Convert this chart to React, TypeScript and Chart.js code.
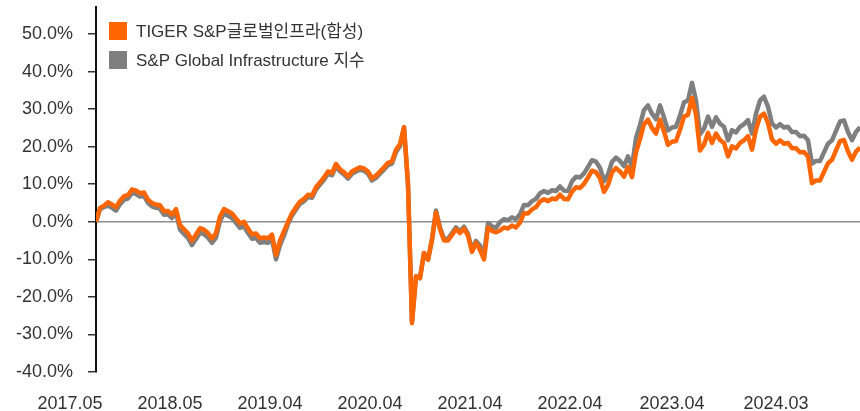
import { useEffect, useRef } from 'react';
import { Chart, registerables } from 'chart.js';

Chart.register(...registerables);

const seriesNames = ['TIGER S&P글로벌인프라(합성)', 'S&P Global Infrastructure 지수'];
const seriesColors = ['#FF6600', '#7F7F7F'];

const tickLabels = ['2017.05', '2018.05', '2019.04', '2020.04', '2021.04', '2022.04', '2023.04', '2024.03'];
const tickIndex = [0, 25, 50, 75, 100, 125, 150.5, 176.5];
const yTicks = [-40, -30, -20, -10, 0, 10, 20, 30, 40, 50];

const tigerValues = [
  0.0, 3.7, 4.3, 5.2, 4.6, 3.9, 5.6, 6.8, 7.1, 8.6,
  8.3, 7.6, 7.8, 5.9, 5.0, 4.6, 4.4, 2.8, 2.9, 1.9,
  3.4, -0.9, -2.0, -3.1, -5.0, -3.4, -1.7, -2.1, -3.0, -4.4,
  -3.0, 1.4, 3.4, 2.8, 2.2, 0.9, -0.4, 0.0, -1.8, -3.3,
  -3.1, -4.4, -4.2, -4.4, -3.4, -8.8, -5.0, -2.5, 0.0, 2.3,
  3.9, 5.4, 6.1, 7.2, 7.0, 9.2, 10.5, 11.8, 13.4, 13.0,
  15.4, 14.0, 13.2, 12.1, 13.4, 14.0, 14.5, 14.2, 13.4, 11.6,
  12.3, 13.4, 14.5, 15.7, 16.1, 19.2, 20.7, 25.2, 10.0, -27.0,
  -14.5, -15.0, -8.3, -10.1, -4.7, 2.5, -2.0, -5.0, -5.0, -3.5,
  -2.0, -3.0, -1.8, -3.7, -8.0, -5.6, -7.5, -10.0, -1.5, -2.4,
  -2.8, -2.3, -1.5, -1.8, -1.0, -1.5, -0.2, 2.3, 2.2, 3.3,
  3.9, 5.4, 6.0, 5.5, 6.2, 6.0, 7.2, 6.1, 6.0, 8.0,
  9.2, 9.0, 10.1, 11.8, 13.6, 13.2, 11.6, 8.0, 9.8, 13.2,
  14.3, 13.4, 12.0, 14.6, 11.9, 18.5, 22.0, 26.0, 27.2, 25.0,
  23.5, 27.2, 24.0, 20.5, 21.3, 21.5, 24.5, 28.0, 28.5, 33.0,
  28.5, 19.0, 20.5, 23.7, 21.0, 23.5, 21.8, 21.0, 17.4, 20.1,
  19.5, 21.0, 21.7, 22.8, 19.2, 24.5, 28.0, 28.8, 26.3, 21.9,
  20.8, 21.7, 20.8, 21.0, 19.6, 19.6, 18.5, 18.6, 17.4, 10.3,
  11.0, 11.0, 13.3, 15.6, 16.5, 19.0, 21.5, 21.8, 18.7, 16.5,
  18.7, 19.8,
];

const indexValues = [
  0.0, 3.3, 3.9, 4.3, 3.7, 3.0, 4.7, 5.9, 6.2, 7.7,
  7.4, 6.7, 6.9, 5.0, 4.1, 3.7, 3.5, 1.9, 2.0, 1.0,
  2.5, -2.1, -3.2, -4.3, -6.2, -4.6, -2.9, -3.3, -4.2, -5.6,
  -4.2, 0.2, 2.2, 1.6, 1.0, -0.3, -1.6, -1.2, -3.0, -4.5,
  -4.3, -5.6, -5.4, -5.6, -4.6, -10.0, -6.2, -3.7, -0.6, 1.7,
  3.3, 4.8, 5.5, 6.6, 6.4, 8.6, 9.9, 11.2, 12.8, 12.4,
  14.8, 13.4, 12.6, 11.5, 12.8, 13.4, 13.9, 13.6, 12.8, 11.0,
  11.7, 12.8, 13.9, 15.1, 15.5, 18.6, 20.1, 25.2, 10.0, -26.5,
  -14.5, -15.0, -8.3, -10.1, -4.7, 3.0, -1.5, -4.5, -4.5, -3.0,
  -1.5, -2.5, -1.3, -3.2, -7.5, -5.1, -6.3, -8.8, -0.3, -1.2,
  -1.6, -0.1, 0.7, 0.4, 1.2, 0.7, 2.0, 4.5, 4.4, 5.5,
  6.1, 7.6, 8.2, 7.7, 8.4, 8.2, 9.4, 8.3, 8.2, 10.8,
  12.0, 11.8, 12.9, 14.6, 16.4, 16.0, 14.4, 10.8, 12.6, 16.0,
  17.1, 16.2, 14.8, 17.4, 14.7, 22.3, 25.8, 29.8, 31.0, 28.8,
  27.3, 31.0, 27.8, 24.3, 25.1, 25.3, 28.3, 31.8, 32.3, 37.0,
  32.3, 23.3, 24.8, 28.0, 25.3, 27.8, 26.1, 25.3, 21.7, 24.4,
  23.8, 25.3, 26.0, 27.1, 23.5, 28.8, 32.3, 33.3, 30.6, 26.2,
  25.1, 26.0, 25.1, 25.3, 23.9, 23.9, 22.8, 22.9, 21.7, 15.5,
  16.2, 16.2, 18.5, 20.8, 21.7, 24.2, 26.7, 27.0, 23.9, 21.7,
  23.9, 25.2,
];

const FONT = "'Liberation Sans', 'Noto Sans CJK KR', sans-serif";

const legendPlugin = {
  id: 'squareLegend',
  afterDraw(chart: any) {
    const ctx = chart.ctx;
    ctx.save();
    ctx.font = `17px ${FONT}`;
    ctx.textBaseline = 'middle';
    ctx.textAlign = 'left';
    const left = chart.chartArea.left + 13;
    const top0 = chart.chartArea.top + 15;
    seriesNames.forEach((name, i) => {
      const y = top0 + i * 29;
      ctx.fillStyle = seriesColors[i];
      ctx.fillRect(left, y, 18, 18);
      ctx.fillStyle = '#333333';
      ctx.fillText(name, left + 27, y + 10);
    });
    ctx.restore();
  },
};

export default function App() {
  const canvasRef = useRef<HTMLCanvasElement | null>(null);

  useEffect(() => {
    if (!canvasRef.current) return;
    const chart = new Chart(canvasRef.current, {
      type: 'line',
      data: {
        datasets: [
          {
            label: seriesNames[0],
            data: tigerValues.map((v, i) => ({ x: i, y: v })),
            borderColor: seriesColors[0],
            borderWidth: 4.5,
            pointRadius: 0,
            tension: 0,
            borderJoinStyle: 'round',
            fill: false,
          },
          {
            label: seriesNames[1],
            data: indexValues.map((v, i) => ({ x: i, y: v })),
            borderColor: seriesColors[1],
            borderWidth: 4.5,
            pointRadius: 0,
            tension: 0,
            borderJoinStyle: 'round',
            fill: false,
          },
        ],
      },
      options: {
        animation: false,
        responsive: false,
        maintainAspectRatio: false,
        layout: { padding: { top: 7, right: 0, left: 0, bottom: 0 } },
        plugins: {
          legend: { display: false },
          tooltip: { enabled: false },
        },
        scales: {
          x: {
            type: 'linear',
            min: 0,
            max: tigerValues.length - 1,
            offset: false,
            border: { display: false },
            grid: { display: false, drawTicks: false },
            afterBuildTicks: (scale: any) => {
              scale.ticks = tickIndex.map((v) => ({ value: v }));
            },
            afterFit: (scale: any) => {
              scale.height = 39;
              scale.paddingLeft = 0;
              scale.paddingRight = 0;
            },
            ticks: {
              autoSkip: false,
              maxRotation: 0,
              minRotation: 0,
              labelOffset: -26,
              padding: 21,
              color: '#333333',
              font: { family: FONT, size: 18 },
              callback: (value: any) => {
                const k = tickIndex.indexOf(Number(value));
                return k >= 0 ? tickLabels[k] : '';
              },
            },
          },
          y: {
            type: 'linear',
            min: -40,
            max: 57.2,
            border: { display: true, color: '#111111', width: 2 },
            grid: {
              display: true,
              drawOnChartArea: true,
              drawTicks: true,
              tickLength: 8,
              tickColor: '#333333',
              tickWidth: 1.5,
              lineWidth: 1.5,
              color: (ctx: any) => (ctx.tick && ctx.tick.value === 0 ? '#8C8C8C' : 'rgba(0,0,0,0)'),
            },
            afterBuildTicks: (scale: any) => {
              scale.ticks = yTicks.map((v) => ({ value: v }));
            },
            afterFit: (scale: any) => {
              scale.width = 96;
              scale.paddingTop = 0;
              scale.paddingBottom = 0;
            },
            ticks: {
              padding: 15,
              color: '#333333',
              font: { family: FONT, size: 18 },
              callback: (value: any) => `${Number(value).toFixed(1)}%`,
            },
          },
        },
      },
      plugins: [legendPlugin],
    });
    return () => chart.destroy();
  }, []);

  return (
    <div style={{ position: 'fixed', left: 0, top: 0, width: 860, height: 411, background: '#ffffff' }}>
      <canvas ref={canvasRef} width={860} height={411} />
    </div>
  );
}
